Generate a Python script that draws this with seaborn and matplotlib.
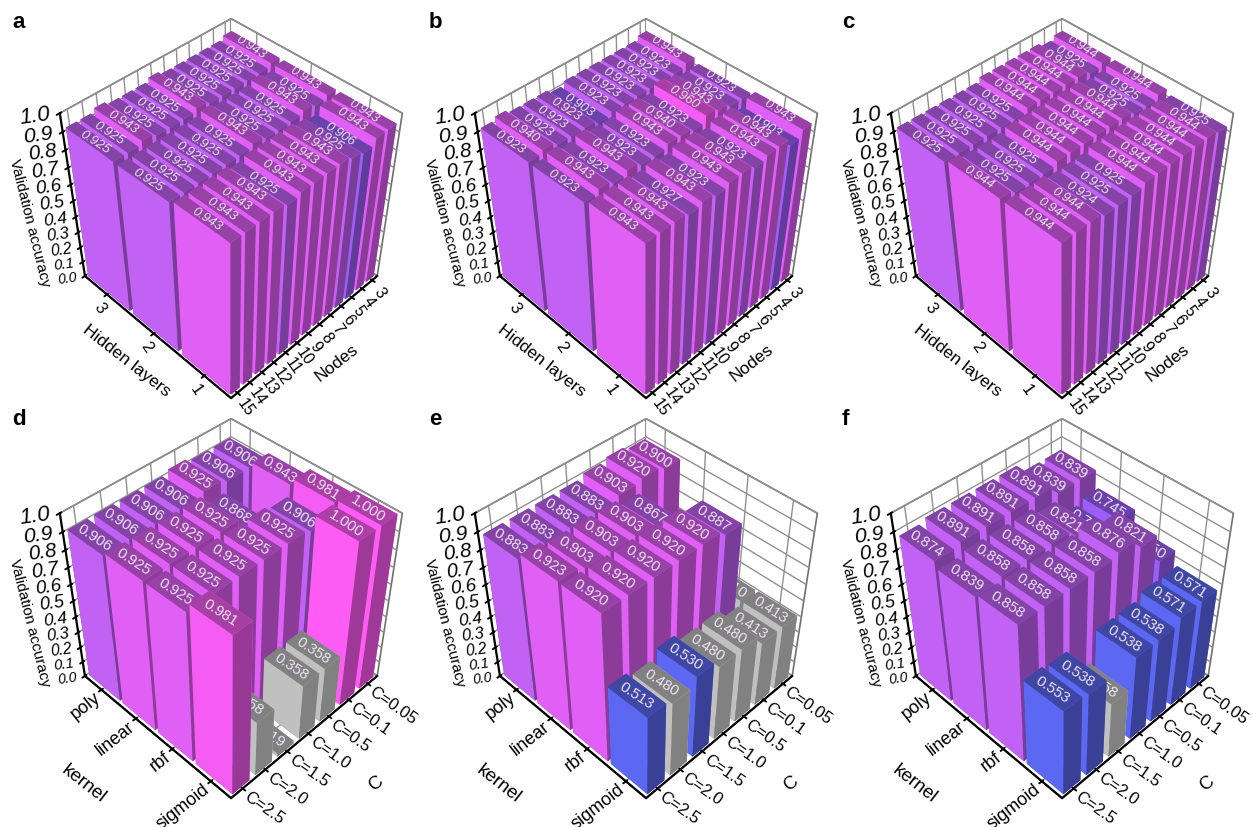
import numpy as np
import seaborn as sns
import matplotlib.pyplot as plt
from mpl_toolkits.mplot3d import Axes3D, proj3d

sns.set_theme(style='ticks')
plt.rcParams['font.family'] = ['Liberation Sans', 'DejaVu Sans']
plt.rcParams['axes.edgecolor'] = 'black'
plt.rcParams['axes.linewidth'] = 1.6
plt.rcParams['xtick.major.width'] = 1.4
plt.rcParams['ytick.major.width'] = 1.4
plt.rcParams['xtick.color'] = 'black'
plt.rcParams['ytick.color'] = 'black'
plt.rcParams['grid.color'] = '#909090'
plt.rcParams['grid.linewidth'] = 1.0

# values read row by row, first entry is the left most bar of each row
hidden_labels = ['3', '2', '1']
node_labels = ['15', '14', '13', '12', '11', '10', '9', '8', '7', '6', '5', '4', '3']
kernel_labels = ['poly', 'linear', 'rbf', 'sigmoid']
c_labels = ['C=2.5', 'C=2.0', 'C=1.5', 'C=1.0', 'C=0.5', 'C=0.1', 'C=0.05']
z_ticks = [0.0, 0.1, 0.2, 0.3, 0.4, 0.5, 0.6, 0.7, 0.8, 0.9, 1.0]

a_layer3 = [.925, .925, .943, .925, .925, .925, .943, .925, .925, .925, .925, .925, .943]
a_layer2 = [.925, .925, .925, .925, .925, .925, .943, .925, .925, .925, .943, .925, .943]
a_layer1 = [.943, .943, .943, .943, .925, .943, .943, .943, .943, .925, .906, .943, .943]

b_layer3 = [.923, .940, .923, .923, .923, .903, .923, .923, .923, .923, .923, .923, .943]
b_layer2 = [.923, .943, .923, .943, .923, .923, .943, .940, .923, .960, .943, .923, .923]
b_layer1 = [.943, .943, .943, .927, .943, .923, .943, .943, .923, .943, .943, .903, .943]

c_layer3 = [.925, .925, .925, .925, .925, .925, .944, .944, .944, .944, .944, .925, .944]
c_layer2 = [.944, .925, .925, .925, .944, .944, .944, .944, .944, .944, .925, .925, .944]
c_layer1 = [.944, .944, .944, .924, .925, .925, .944, .944, .944, .944, .944, .944, .925]

d_poly = [.906, .906, .906, .906, .925, .906, .906]
d_linear = [.925, .925, .925, .925, .868, .358, .943]
d_rbf = [.925, .925, .925, .925, .925, .906, .981]
d_sigmoid = [.981, .358, .019, .358, .358, 1.0, 1.0]

e_poly = [.883, .883, .883, .883, .903, .920, .900]
e_linear = [.923, .903, .903, .903, .867, .413, .413]
e_rbf = [.920, .920, .920, .920, .920, .887, .410]
e_sigmoid = [.513, .480, .530, .480, .480, .413, .413]

f_poly = [.874, .891, .891, .891, .891, .839, .839]
f_linear = [.839, .858, .858, .858, .821, .720, .745]
f_rbf = [.858, .858, .858, .858, .876, .821, .650]
f_sigmoid = [.553, .538, .358, .538, .538, .571, .571]

palette = sns.color_palette(['#c0c0c0', '#5c68f2', '#9c5ef8', '#c262f5',
                             '#e05ff5', '#f55cf3', '#ff5cf5'])
top_bounds = [.5, .6, .91, .93, .95, .99]
d_bounds = [.5, .6, .8, .91, .95, .99]
e_bounds = [.5, .6, .8, .89, .95, .99]
f_bounds = [.5, .6, .8, .90, .95, .99]

PX = 0.185 / 375  # one pixel in the 2d units of a 375 px 3d axes


def nudge_label(label, dx, dy):
    # mplot3d resets the label position on every draw, so shift it there
    place = label.set_position
    label.set_position = lambda xy: place((xy[0] + dx * PX, xy[1] - dy * PX))


def draw_panel(ax, rows, xlabels, ylabels, xname, yname, bounds, label_kw, xtick_kw, ytick_kw,
               pads, xnudge, ynudge, name_size):
    nx, ny = len(rows), len(rows[0])
    ax.computed_zorder = False
    ax.set_proj_type('persp', focal_length=0.478)
    ax.view_init(elev=43.5, azim=-45)
    ax.set_box_aspect((1, 1, 1))
    ax.patch.set_alpha(0)
    ax.set_xlim(0, nx)
    ax.set_ylim(0, ny)
    ax.set_zlim(0, 1)
    proj = ax.get_proj()

    order = 10
    for j in range(ny - 1, -1, -1):
        for i in range(nx):
            v = rows[i][j]
            col = np.array(palette[np.digitize(v, bounds)])
            dark_top = col * 0.68
            dark_side = col * 0.62
            if col[0] == col[1]:
                dark_top = dark_side = col * 0.67
            # faces: -z, +z, -y, +y, -x, +x
            faces = [dark_top, dark_top, col, col, dark_side, dark_side]
            ax.bar3d(i + 0.04, j + 0.13, 0, 0.92, 0.74, v, color=faces, shade=False,
                     linewidth=0, zorder=order)
            tx, ty, _ = proj3d.proj_transform(i + 0.5, j + 0.5, v, proj)
            ax.text2D(tx, ty, f'{v:.3f}', transform=ax.transData, rotation=-33, ha='center',
                      va='center', rotation_mode='anchor', color='#eee2f6',
                      zorder=order + 1, **label_kw)
            order += 2

    ax.set_xticks(np.arange(nx) + 0.5)
    ax.set_yticks(np.arange(ny) + 0.5)
    ax.set_zticks(z_ticks)
    ax.set_xticklabels(xlabels, rotation_mode='anchor', **xtick_kw)
    ax.set_yticklabels(ylabels, rotation_mode='anchor', **ytick_kw)
    ax.set_zticklabels([f'{z:.1f}' for z in z_ticks], rotation=8, style='italic',
                       ha='right', va='center', rotation_mode='anchor')
    for lab, size in zip(ax.zaxis.get_ticklabels(), np.linspace(10, 16, 11)):
        lab.set_fontsize(size)

    ax.tick_params(axis='x', pad=pads[0])
    ax.tick_params(axis='y', pad=pads[0])
    ax.tick_params(axis='z', pad=-4)

    for axis in (ax.xaxis, ax.yaxis, ax.zaxis):
        axis.set_pane_color((1, 1, 1, 1))
        axis.pane.set_edgecolor('#707070')
        axis.pane.set_linewidth(1.2)
        axis.set_rotate_label(False)

    ax.zaxis.set_ticks_position('lower')
    ax.zaxis.set_label_position('lower')
    ax.set_xlabel(xname, rotation=-38, fontsize=name_size, labelpad=pads[1], color='black')
    ax.set_ylabel(yname, rotation=38, fontsize=name_size, labelpad=pads[1], color='black')
    ax.set_zlabel('Validation accuracy', rotation=-76, fontsize=11, labelpad=3, color='black')
    nudge_label(ax.xaxis.label, *xnudge)
    nudge_label(ax.yaxis.label, *ynudge)
    nudge_label(ax.zaxis.label, 10, 21)


fig = plt.figure(figsize=(12.53, 8.28), dpi=100)

panels = [
    ('a', [a_layer3, a_layer2, a_layer1], top_bounds),
    ('b', [b_layer3, b_layer2, b_layer1], top_bounds),
    ('c', [c_layer3, c_layer2, c_layer1], top_bounds),
    ('d', [d_poly, d_linear, d_rbf, d_sigmoid], d_bounds),
    ('e', [e_poly, e_linear, e_rbf, e_sigmoid], e_bounds),
    ('f', [f_poly, f_linear, f_rbf, f_sigmoid], f_bounds),
]
col_left = [38.5, 453.5, 869.5]
row_top = [19.6, 419.6]
letter_x = [12, 429, 842]
letter_y = [22, 420]

for k, (name, rows, bounds) in enumerate(panels):
    r, c = k // 3, k % 3
    ax = fig.add_axes([col_left[c] / 1253, 1 - (row_top[r] + 375) / 828, 375 / 1253, 375 / 828],
                      projection='3d')
    if r == 0:
        draw_panel(ax, rows, hidden_labels, node_labels, 'Hidden layers', 'Nodes', bounds,
                   dict(fontsize=9.5, style='italic'),
                   dict(rotation=-55, ha='center', va='center', fontsize=12),
                   dict(rotation=-55, ha='center', va='center', fontsize=11.5), (-1, 0),
                   (-5, -12), (6, -10), 12.5)
    else:
        draw_panel(ax, rows, kernel_labels, c_labels, 'kernel', 'C', bounds,
                   dict(fontsize=10.8),
                   dict(rotation=38, ha='right', va='center', fontsize=13),
                   dict(rotation=-35, ha='left', va='center', fontsize=12), (-5, 10),
                   (-37, -7), (35, -8), 13.5)
    fig.text(letter_x[c] / 1253, 1 - letter_y[r] / 828, name, fontsize=16, fontweight='bold',
             color='black', ha='left', va='center')

fig.savefig('out.png', dpi=100)
